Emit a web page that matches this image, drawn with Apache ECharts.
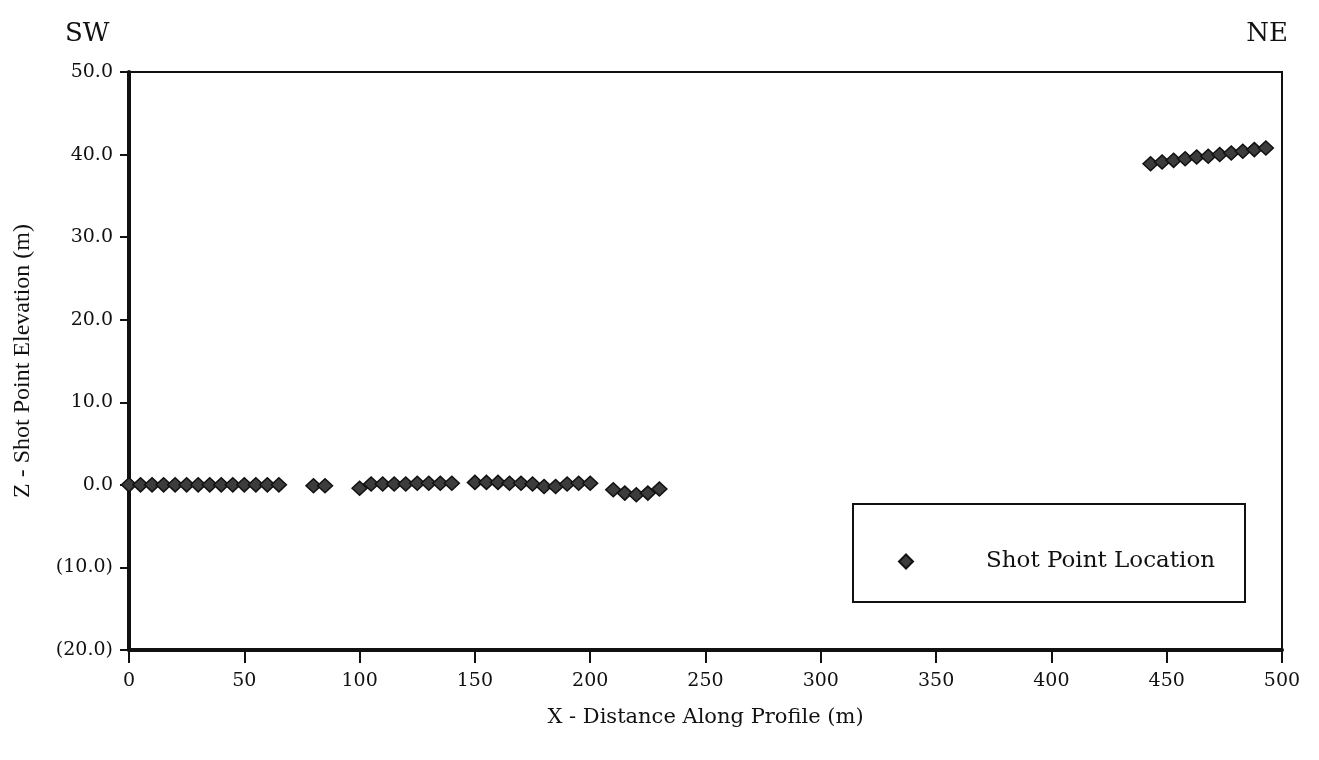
<!DOCTYPE html>
<html>
<head>
<meta charset="utf-8">
<script src="https://cdn.jsdelivr.net/npm/echarts@6/dist/echarts.min.js"></script>
<style>
	* { margin: 0; padding: 0; }
	body { background: #fff; }
	#main { width: 1319px; height: 760px; }
</style>
</head>
<body>
<div id="main"></div>
<script>
	// shot point positions along the profile (m) and elevations (m)
	var distances = [
		0, 5, 10, 15, 20, 25, 30, 35, 40, 45, 50, 55, 60, 65,
		80, 85,
		100, 105, 110, 115, 120, 125, 130, 135, 140,
		150, 155, 160, 165, 170, 175, 180, 185, 190, 195, 200,
		210, 215, 220, 225, 230,
		443, 448, 453, 458, 463, 468, 473, 478, 483, 488, 493
	]
	var elevations = [
		0.0, 0.0, 0.0, 0.0, 0.0, 0.0, 0.0, 0.0, 0.0, 0.0, 0.0, 0.0, 0.0, 0.0,
		-0.1, -0.1,
		-0.4, 0.1, 0.1, 0.1, 0.1, 0.2, 0.2, 0.2, 0.2,
		0.3, 0.3, 0.3, 0.2, 0.2, 0.1, -0.2, -0.2, 0.1, 0.2, 0.2,
		-0.6, -1.0, -1.2, -1.0, -0.5,
		38.9, 39.1, 39.3, 39.5, 39.7, 39.8, 40.0, 40.2, 40.4, 40.6, 40.8
	]
	var yTicks = { min: -20, max: 50, step: 10 }
	var xTicks = { min: 0, max: 500, step: 50 }

	var wide = 'DejaVu Serif'
	var narrow = 'Liberation Serif'

	// break the line where the survey skips stations
	var lineData = []
	distances.forEach(function(x, i) {
		if (i > 0 && x - distances[i - 1] > 7) lineData.push([x - 1, '-'])
		lineData.push([x, elevations[i]])
	})

	var chart = echarts.init(document.getElementById('main'))
	chart.setOption({
		animation: false,
		title: [{
			text: 'SW', left: 60, top: 16,
			textStyle: { fontFamily: wide, fontSize: 26, fontWeight: 'normal', color: '#111' }
		}, {
			text: 'NE', right: 26, top: 16,
			textStyle: { fontFamily: wide, fontSize: 26, fontWeight: 'normal', color: '#111' }
		}],
		grid: {
			left: 129, right: 37, top: 72, bottom: 110,
			show: true, borderColor: '#111', borderWidth: 2
		},
		legend: {
			left: 893, top: 545,
			data: [{ name: 'Shot Point Location', icon: 'diamond' }],
			itemWidth: 14, itemHeight: 14,
			textStyle: { fontFamily: wide, fontSize: 23, color: '#111', padding: [0, 0, 0, 68] }
		},
		graphic: [{
			type: 'rect',
			shape: { x: 853, y: 504, width: 392, height: 98 },
			style: { fill: 'none', stroke: '#111', lineWidth: 2 }
		}],
		xAxis: {
			type: 'value',
			min: xTicks.min, max: xTicks.max, interval: xTicks.step,
			name: 'X - Distance Along Profile (m)',
			nameLocation: 'middle', nameGap: 57,
			nameTextStyle: { fontFamily: wide, fontSize: 21, color: '#111' },
			axisLine: { show: true, onZero: false, lineStyle: { color: '#111', width: 4 } },
			axisTick: { show: true, length: 13, lineStyle: { color: '#111', width: 2 } },
			axisLabel: { fontFamily: wide, fontSize: 19, color: '#111', margin: 22 },
			splitLine: { show: false }
		},
		yAxis: {
			type: 'value',
			min: yTicks.min, max: yTicks.max, interval: yTicks.step,
			name: 'Z - Shot Point Elevation (m)',
			nameLocation: 'middle', nameGap: 94, nameRotate: 90,
			nameTextStyle: { fontFamily: narrow, fontSize: 24, color: '#111' },
			axisLine: { show: true, onZero: false, lineStyle: { color: '#111', width: 4 } },
			axisTick: { show: true, length: 9, lineStyle: { color: '#111', width: 2 } },
			axisLabel: {
				fontFamily: wide, fontSize: 19, color: '#111', margin: 16,
				formatter: function(v) {
					return v < 0 ? '(' + Math.abs(v).toFixed(1) + ')' : v.toFixed(1)
				}
			},
			splitLine: { show: false }
		},
		series: [{
			name: 'Shot Point Location',
			type: 'line',
			data: lineData,
			connectNulls: false,
			symbol: 'diamond',
			symbolSize: [15, 14],
			showAllSymbol: true,
			itemStyle: { color: '#3c3c3c', borderColor: '#111', borderWidth: 1.5 },
			lineStyle: { color: '#222', width: 3 }
		}]
	})
</script>
</body>
</html>
